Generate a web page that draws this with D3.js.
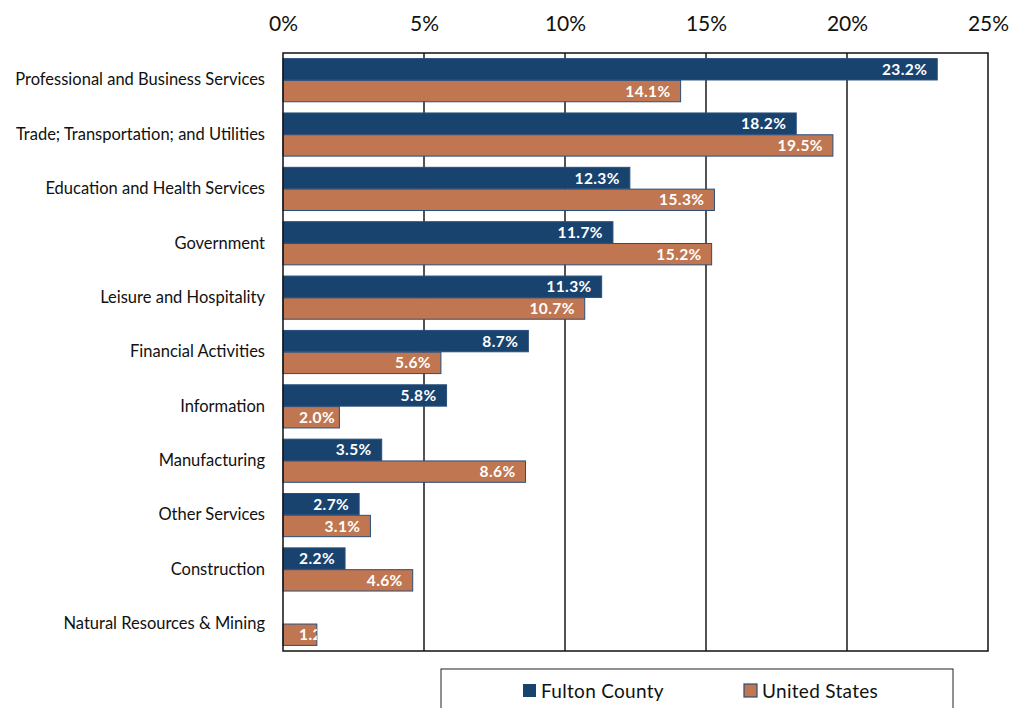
<!DOCTYPE html>
<html>
<head>
<meta charset="utf-8">
<script src="https://cdn.jsdelivr.net/npm/d3@7"></script>
<style>
  html, body { margin: 0; padding: 0; background: #fff; }
  svg { display: block; font-family: Lato, "Liberation Sans", sans-serif; }
</style>
</head>
<body>
<svg id="chart" width="1014" height="708"></svg>
<script>
// Share of employment by industry
const categories = [
  "Professional and Business Services",
  "Trade; Transportation; and Utilities",
  "Education and Health Services",
  "Government",
  "Leisure and Hospitality",
  "Financial Activities",
  "Information",
  "Manufacturing",
  "Other Services",
  "Construction",
  "Natural Resources & Mining"
];
const seriesNames = ["Fulton County", "United States"];
const fultonValues = [23.2, 18.2, 12.3, 11.7, 11.3, 8.7, 5.8, 3.5, 2.7, 2.2, null];
const usValues     = [14.1, 19.5, 15.3, 15.2, 10.7, 5.6, 2.0, 8.6, 3.1, 4.6, 1.2];
const tickValues = [0, 5, 10, 15, 20, 25];

const colors = { "Fulton County": "#18436f", "United States": "#c07650" };
const barStroke = "#2a4e7a";

const svg = d3.select("#chart");
const margin = { left: 283, right: 26, top: 53, bottom: 57 };
const W = 1014, H = 708;
const plotW = W - margin.left - margin.right;
const plotH = H - margin.top - margin.bottom;

const x = d3.scaleLinear().domain([0, 25]).range([0, plotW]);
const y = d3.scaleBand().domain(categories).range([0, plotH]).paddingInner(0.19).paddingOuter(0.095);
const ySub = d3.scaleBand().domain(seriesNames).range([0, y.bandwidth()]).padding(0.02);

const g = svg.append("g").attr("transform", `translate(${margin.left},${margin.top})`);

// vertical gridlines
g.append("g").selectAll("line").data(tickValues.slice(1, -1)).join("line")
  .attr("x1", d => x(d)).attr("x2", d => x(d))
  .attr("y1", 0).attr("y2", plotH)
  .attr("stroke", "#1a1a1a").attr("stroke-width", 1.5);

// top axis labels
const axis = d3.axisTop(x).tickValues(tickValues).tickFormat(d => d + "%").tickSize(0).tickPadding(22);
const axG = g.append("g").call(axis);
axG.select(".domain").remove();
axG.selectAll("text").attr("font-size", 21).attr("fill", "#111").attr("font-family", "Lato, sans-serif");

// category labels
const yAxis = d3.axisLeft(y).tickSize(0).tickPadding(18);
const yG = g.append("g").call(yAxis);
yG.select(".domain").remove();
yG.selectAll("text").attr("font-size", 16.5).attr("fill", "#111").attr("font-family", "Lato, sans-serif");

const rows = categories.map((c, i) => ({
  cat: c,
  items: [
    { s: "Fulton County", v: fultonValues[i] },
    { s: "United States", v: usValues[i] }
  ].filter(d => d.v != null)
}));

const defs = svg.append("defs");
let clipId = 0;

const groups = g.selectAll("g.row").data(rows).join("g")
  .attr("class", "row")
  .attr("transform", d => `translate(0,${y(d.cat)})`);

groups.each(function(row) {
  const grp = d3.select(this);
  row.items.forEach(d => {
    const by = ySub(d.s), bh = ySub.bandwidth(), bw = x(d.v);
    grp.append("rect")
      .attr("x", 0).attr("y", by).attr("width", bw).attr("height", bh)
      .attr("fill", colors[d.s]).attr("stroke", barStroke).attr("stroke-width", 1);
    const id = "clip" + (clipId++);
    defs.append("clipPath").attr("id", id)
      .append("rect").attr("x", margin.left).attr("y", margin.top + y(row.cat) + by)
      .attr("width", bw).attr("height", bh);
    grp.append("text")
      .attr("clip-path", `url(#${id})`)
      .attr("transform", `translate(${-margin.left},${-margin.top - y(row.cat)})`)
      .attr("x", margin.left + Math.max(bw - 10, 52))
      .attr("y", margin.top + y(row.cat) + by + bh / 2)
      .attr("dy", "0.36em")
      .attr("text-anchor", "end")
      .attr("font-size", 15.5).attr("letter-spacing", 0.4)
      .attr("font-weight", "bold").attr("fill", "#fff")
      .text(d3.format(".1f")(d.v) + "%");
  });
});

// plot frame
g.append("rect").attr("x", 0).attr("y", 0).attr("width", plotW).attr("height", plotH)
  .attr("fill", "none").attr("stroke", "#111").attr("stroke-width", 1.5);

// legend
const lg = svg.append("g");
lg.append("rect").attr("x", 441).attr("y", 669).attr("width", 512).attr("height", 50)
  .attr("fill", "#fff").attr("stroke", "#222").attr("stroke-width", 1);
const legendX = [523, 744];
seriesNames.forEach((s, i) => {
  lg.append("rect").attr("x", legendX[i]).attr("y", 684).attr("width", 13).attr("height", 13)
    .attr("fill", colors[s]).attr("stroke", i === 1 ? barStroke : "none").attr("stroke-width", 1.2);
  lg.append("text").attr("x", legendX[i] + 18).attr("y", 691).attr("dy", "0.35em")
    .attr("font-size", 19).attr("letter-spacing", 0.3).attr("fill", "#111").text(s);
});
</script>
</body>
</html>
